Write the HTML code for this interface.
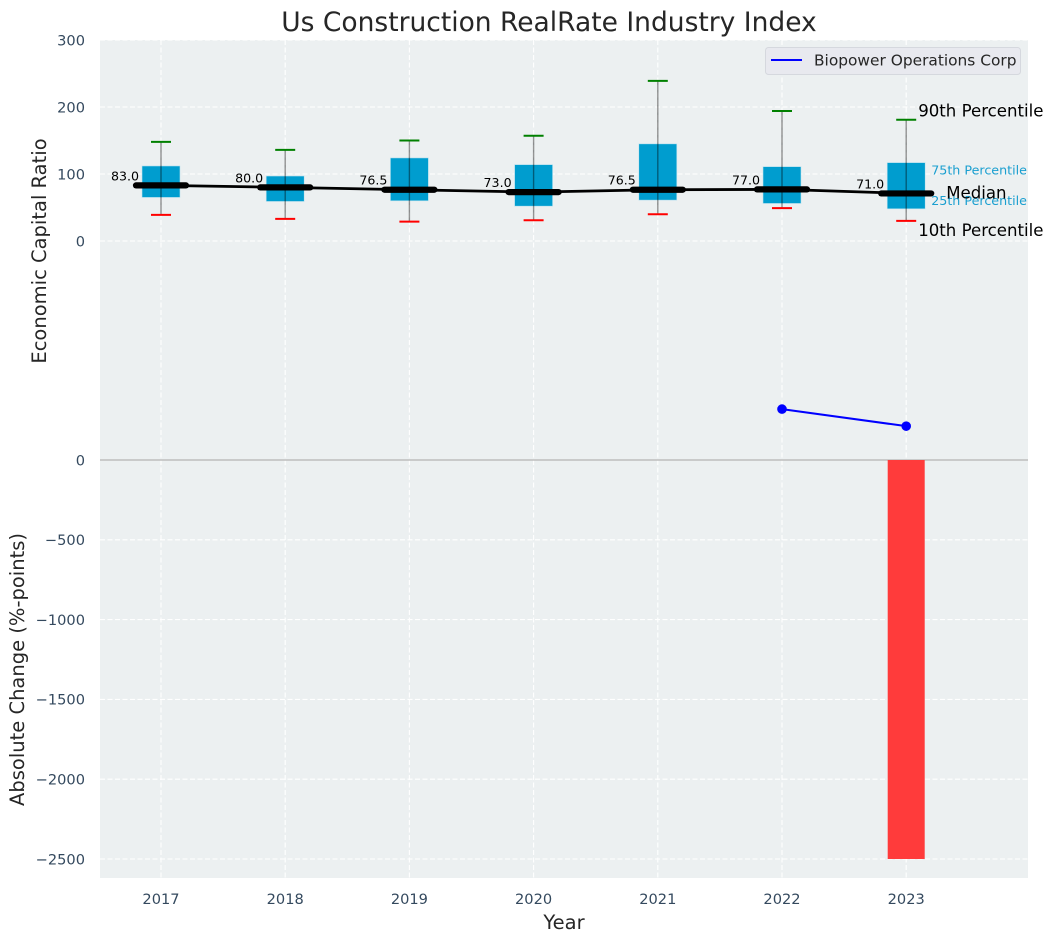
<!DOCTYPE html>
<html>
<head>
<meta charset="utf-8">
<style>
html,body{margin:0;padding:0;background:#fff;width:1053px;height:942px;overflow:hidden}
svg{display:block;font-family:"DejaVu Sans","Liberation Sans",sans-serif}
</style>
</head>
<body>
<svg id="chart" xmlns="http://www.w3.org/2000/svg" width="1053" height="942" viewBox="0 0 1053 942">
  <rect x="100" y="40" width="928" height="838" fill="#ecf0f1"/>
  <g id="grid"></g>
  <line x1="100" x2="1028" y1="460" y2="460" stroke="#bdbdbd" stroke-width="1.4"/>
  <g id="marks"></g>
  <g id="ticks"></g>
  <text x="549" y="31" text-anchor="middle" font-size="26.5" fill="#262626">Us Construction RealRate Industry Index</text>
  <text transform="translate(46,251) rotate(-90)" text-anchor="middle" font-size="19.5" fill="#262626">Economic Capital Ratio</text>
  <text transform="translate(24,669.5) rotate(-90)" text-anchor="middle" font-size="19.5" fill="#262626">Absolute Change (%-points)</text>
  <text x="564" y="929" text-anchor="middle" font-size="19.5" fill="#262626">Year</text>
  <g>
    <rect x="765.5" y="47.5" width="255" height="27" rx="3" fill="#e8e9ef" stroke="#d5d8de" stroke-width="1"/>
    <line x1="771" x2="802" y1="60" y2="60" stroke="#0000ff" stroke-width="2"/>
    <text x="814" y="65.5" font-size="15.4" fill="#262626">Biopower Operations Corp</text>
  </g>
</svg>
<script>
const years = [2017, 2018, 2019, 2020, 2021, 2022, 2023];
const p90 = [148, 136, 150, 157, 239, 194, 181];
const q3 = [112, 97, 124, 114, 145, 111, 117];
const medians = [83.0, 80.0, 76.5, 73.0, 76.5, 77.0, 71.0];
const q1 = [65, 59, 60, 52, 61, 56, 48];
const p10 = [39, 33, 29, 31, 40, 49, 30];
const lineYears = [2022, 2023];
const lineValues = [319, 212];
const barYears = [2023];
const barValues = [-2500];
const upperTicks = [0, 100, 200, 300];
const lowerTicks = [0, -500, -1000, -1500, -2000, -2500];

const NS = 'http://www.w3.org/2000/svg';
const xScale = function (v) { return 161 + (v - 2017) * 124.2; };
const yUpper = function (v) { return 241 - v * 0.67; };
const yLower = function (v) { return 460 - v * 0.1596; };
const grid = document.getElementById('grid');
const marks = document.getElementById('marks');
const ticks = document.getElementById('ticks');

function make(parent, tag, attrs, text) {
  const el = document.createElementNS(NS, tag);
  for (const k in attrs) el.setAttribute(k, attrs[k]);
  if (text !== undefined) el.textContent = text;
  parent.appendChild(el);
  return el;
}
const gridStyle = { stroke: '#ffffff', 'stroke-width': 1.1, 'stroke-dasharray': '5 2.5' };

years.forEach(function (yr) {
  const gl = make(grid, 'line', Object.assign({ x1: xScale(yr), x2: xScale(yr), y1: 40, y2: 878 }, gridStyle));
  
  
  const t = make(ticks, 'text', { x: xScale(yr), y: 904, 'text-anchor': 'middle', 'font-size': 14.6, fill: '#34495e' }, yr);
  
  
});
upperTicks.forEach(function (v) {
  const gl = make(grid, 'line', Object.assign({ x1: 100, x2: 1028, y1: yUpper(v), y2: yUpper(v) }, gridStyle));
  
  
  const t = make(ticks, 'text', { x: 85, y: yUpper(v) + 5.3, 'text-anchor': 'end', 'font-size': 14.6, fill: '#34495e' }, v);
  
  
});
lowerTicks.forEach(function (v) {
  const gl = make(grid, 'line', Object.assign({ x1: 100, x2: 1028, y1: yLower(v), y2: yLower(v) }, gridStyle));
  
  
  const t = make(ticks, 'text', { x: 85, y: yLower(v) + 5.3, 'text-anchor': 'end', 'font-size': 14.6, fill: '#34495e' }, String(v).replace('-', '\u2212'));
  
  
});

barYears.forEach(function (yr, i) {
  const y0 = yLower(0);
  const y1 = yLower(barValues[i]);
  const b = make(marks, 'rect', { x: xScale(yr) - 18.5, y: Math.min(y0, y1), width: 37, height: Math.abs(y1 - y0), fill: '#ff3b3b' });
  
  
});

years.forEach(function (yr, i) {
  const x = xScale(yr);
  const box = make(marks, 'rect', { x: x - 19, y: yUpper(q3[i]), width: 38, height: yUpper(q1[i]) - yUpper(q3[i]), fill: '#009dcf', stroke: '#bfe3ef', 'stroke-width': 0.6 });
  
  
  const w = make(marks, 'line', { x1: x, x2: x, y1: yUpper(p90[i]), y2: yUpper(p10[i]), stroke: '#000', 'stroke-opacity': 0.42, 'stroke-width': 1.4 });
  
  
  const c1 = make(marks, 'line', { x1: x - 10, x2: x + 10, y1: yUpper(p90[i]), y2: yUpper(p90[i]), stroke: '#008000', 'stroke-width': 2 });
  
  
  const c2 = make(marks, 'line', { x1: x - 10, x2: x + 10, y1: yUpper(p10[i]), y2: yUpper(p10[i]), stroke: '#ff0000', 'stroke-width': 2 });
  
  
});

const medianPath = make(marks, 'polyline', { points: years.map(function (yr, i) { return xScale(yr) + ',' + yUpper(medians[i]); }).join(' '), fill: 'none', stroke: '#000', 'stroke-width': 2.8 });



years.forEach(function (yr, i) {
  const x = xScale(yr);
  const y = yUpper(medians[i]);
  const m = make(marks, 'line', { x1: x - 25, x2: x + 25, y1: y, y2: y, stroke: '#000', 'stroke-width': 6.2, 'stroke-linecap': 'round' });
  
  
  const t = make(marks, 'text', { x: x - 22, y: y - 5, 'text-anchor': 'end', 'font-size': 12.6, fill: '#000' }, medians[i].toFixed(1));
  
  
});

const bluePath = make(marks, 'polyline', { points: lineYears.map(function (yr, i) { return xScale(yr) + ',' + yLower(lineValues[i]); }).join(' '), fill: 'none', stroke: '#0000ff', 'stroke-width': 2 });


lineYears.forEach(function (yr, i) {
  const p = make(marks, 'circle', { cx: xScale(yr), cy: yLower(lineValues[i]), r: 4.8, fill: '#0000ff' });
  
  
});

const last = years.length - 1;
const lx = xScale(years[last]);
const a90 = make(marks, 'text', { x: lx + 12, y: yUpper(p90[last]) - 3, 'font-size': 16.6, fill: '#000' }, '90th Percentile');


const a10 = make(marks, 'text', { x: lx + 12, y: yUpper(p10[last]) + 15, 'font-size': 16.6, fill: '#000' }, '10th Percentile');


const a75 = make(marks, 'text', { x: lx + 25, y: yUpper(q3[last]) + 12, 'font-size': 12.7, fill: '#1a9fd0' }, '75th Percentile');


const a25 = make(marks, 'text', { x: lx + 25, y: yUpper(q1[last]) - 4, 'font-size': 12.7, fill: '#1a9fd0' }, '25th Percentile');


const aMed = make(marks, 'text', { x: lx + 40, y: yUpper(medians[last]) + 5, 'font-size': 16.6, fill: '#000' }, 'Median');


</script>
</body>
</html>
